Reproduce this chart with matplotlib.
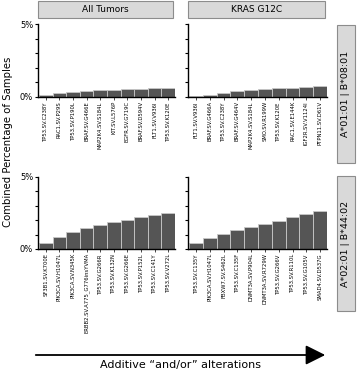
import matplotlib
matplotlib.use("Agg")
import matplotlib.pyplot as plt
from matplotlib.patches import Rectangle, FancyArrowPatch

# data (percent of samples)
genes_all_1 = ["TP53.SV.C238Y", "RAC1.SV.P29S", "TP53.SV.P190L", "BRAF.SV.G466E",
               "MAP2K4.SV.S184L", "KIT.SV.L576P", "EGFR.SV.G719C", "BRAF.SV.D594V",
               "FLT1.SV.V936I", "TP53.SV.K120E"]
vals_all_1 = [0.12, 0.25, 0.34, 0.41, 0.46, 0.48, 0.53, 0.55, 0.59, 0.62]

genes_kras_1 = ["FLT1.SV.V936I", "BRAF.SV.G466A", "TP53.SV.C238Y", "BRAF.SV.G464V",
                "MAP2K4.SV.S184L", "SMO.SV.R199W", "TP53.SV.K120E", "RAC1.SV.E144K",
                "IGF2R.SV.V1124I", "PTPN11.SV.D61V"]
vals_kras_1 = [0.05, 0.16, 0.25, 0.39, 0.48, 0.53, 0.60, 0.65, 0.71, 0.74]

genes_all_2 = ["SF3B1.SV.K700E", "PIK3CA.SV.H1047L", "PIK3CA.SV.N345K",
               "ERBB2.SV.A775_G776insYVMA", "TP53.SV.G266R", "TP53.SV.K132N",
               "TP53.SV.G266E", "TP53.SV.P152L", "TP53.SV.C141Y", "TP53.SV.V272L"]
vals_all_2 = [0.43, 0.80, 1.17, 1.44, 1.65, 1.85, 2.04, 2.20, 2.36, 2.52]

genes_kras_2 = ["TP53.SV.C135Y", "PIK3CA.SV.H1047L", "FBXW7.SV.S462L", "TP53.SV.C135F",
                "DNMT3A.SV.P904L", "DNMT3A.SV.R729W", "TP53.SV.G266V", "TP53.SV.R110L",
                "TP53.SV.G105V", "SMAD4.SV.D537G"]
vals_kras_2 = [0.41, 0.76, 1.03, 1.30, 1.51, 1.76, 1.97, 2.20, 2.40, 2.63]

col_titles = ["All Tumors", "KRAS G12C"]
row_titles = ["A*01:01 | B*08:01", "A*02:01 | B*44:02"]

W, H = 357, 370
fig = plt.figure(figsize=(W / 100, H / 100), dpi=100)

def fx(px):
    return px / W

def fy(py):
    return 1 - py / H

cols = [(38, 175), (188, 327)]
rows = [(24, 97), (177, 249)]
panels = [[(genes_all_1, vals_all_1), (genes_kras_1, vals_kras_1)],
          [(genes_all_2, vals_all_2), (genes_kras_2, vals_kras_2)]]

for r, (top, bot) in enumerate(rows):
    for c, (left, right) in enumerate(cols):
        ax = fig.add_axes([fx(left), fy(bot), fx(right) - fx(left), fy(top) - fy(bot)])
        names, vals = panels[r][c]
        x = list(range(len(vals)))
        ax.bar(x, vals, width=1.0, color="#555555", edgecolor="#c8c8c8", linewidth=0.6)
        ax.set_xlim(-0.58, len(vals) - 0.5)
        ax.set_ylim(0, 5)
        ax.set_yticks([0, 1, 2, 3, 4, 5])
        if c == 0:
            ax.set_yticklabels(["0%", "", "", "", "", "5%"], fontsize=6)
        else:
            ax.set_yticklabels([])
        ax.set_xticks(x)
        ax.set_xticklabels(names, rotation=90, fontsize=3.8)
        ax.tick_params(axis="x", length=2, width=0.5, pad=1)
        ax.tick_params(axis="y", length=2.5, width=0.8, pad=1)
        for s in ["top", "right"]:
            ax.spines[s].set_visible(False)
        ax.spines["left"].set_linewidth(1.0)
        ax.spines["bottom"].set_linewidth(1.0)
        ax.patch.set_visible(False)

# column strips
for (left, right), t in zip([(38, 173), (188, 325)], col_titles):
    fig.add_artist(Rectangle((fx(left), fy(18)), fx(right) - fx(left), fy(1) - fy(18),
                             transform=fig.transFigure, facecolor="#d9d9d9",
                             edgecolor="#8c8c8c", linewidth=0.8))
    fig.text(fx((left + right) / 2), fy(9.5), t, ha="center", va="center", fontsize=6.5)

# row strips
for (top, bot), t in zip([(25, 163), (176, 311)], row_titles):
    fig.add_artist(Rectangle((fx(337), fy(bot)), fx(355) - fx(337), fy(top) - fy(bot),
                             transform=fig.transFigure, facecolor="#d9d9d9",
                             edgecolor="#8c8c8c", linewidth=0.8))
    fig.text(fx(346), fy((top + bot) / 2), t, ha="center", va="center",
             rotation=90, fontsize=6.8)

fig.text(fx(8), fy(142), "Combined Percentage of Samples", rotation=90,
         ha="center", va="center", fontsize=7.3)

arrow = FancyArrowPatch((fx(33), fy(355)), (fx(328), fy(355)), transform=fig.transFigure,
                        arrowstyle="-|>,head_length=6,head_width=3", color="black",
                        linewidth=1.3, mutation_scale=2)
fig.add_artist(arrow)
fig.text(fx(180), fy(365), "Additive \u201cand/or\u201d alterations", ha="center",
         va="center", fontsize=8)

fig.savefig("out.png", dpi=100)
